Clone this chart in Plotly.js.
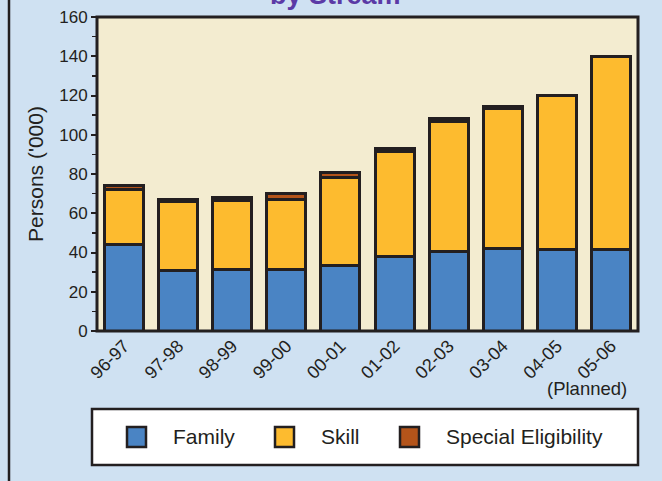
<!DOCTYPE html>
<html>
<head>
<meta charset="utf-8">
<script src="https://cdn.plot.ly/plotly-3.0.1.min.js"></script>
<style>html,body{margin:0;padding:0;background:#cfe1f2;}#chart{width:662px;height:481px;}</style>
</head>
<body>
<div id="chart"></div>
<script>
// ---- data ----
var years = ["96-97","97-98","98-99","99-00","00-01","01-02","02-03","03-04","04-05","05-06"];
var family = [44.3, 30.9, 31.4, 31.4, 33.2, 37.8, 40.5, 41.9, 41.4, 41.5];
var skill = [27.6, 35.3, 35.3, 35.6, 45.1, 53.7, 66.2, 71.6, 78.6, 98.5];
var special = [2.1, 0.8, 1.1, 3.3, 2.4, 1.5, 1.7, 1.0, 0.0, 0.0];
var seriesNames = ["Family", "Skill", "Special Eligibility"];
var yTickVals = [0, 20, 40, 60, 80, 100, 120, 140, 160];
var titleText = "by Stream";
var yTitle = "Persons ('000)";
var plannedNote = "(Planned)";

// ---- style ----
var colors = ["#4a84c4", "#fdbb2f", "#b4541a"];
var ink = "#231f20";
var FONT = "Liberation Sans, Arial, Helvetica, sans-serif";
var L = 97, R = 638, T = 17, B = 331, W = 662, H = 481;
function px(x) { return (x - L) / (R - L); }
function py(y) { return (B - y) / (B - T); }

var series = [family, skill, special];
var traces = series.map(function (vals, i) {
  return {
    type: "bar", x: years, y: vals, name: seriesNames[i],
    marker: { color: colors[i], line: { color: ink, width: 3 } },
    showlegend: false, hoverinfo: "x+y+name"
  };
});

var shapes = [
  { type: "rect", xref: "paper", yref: "paper", x0: 0, x1: 1, y0: 0, y1: 1,
    line: { color: ink, width: 3 }, layer: "above" },
  { type: "line", xref: "paper", yref: "paper", x0: px(9), x1: px(9), y0: py(-5), y1: py(490),
    line: { color: ink, width: 2.5 } },
  { type: "rect", xref: "paper", yref: "paper", x0: px(92), x1: px(638), y0: py(409), y1: py(465),
    fillcolor: "#ffffff", line: { color: ink, width: 2.5 } }
];
var annotations = [
  { text: titleText, xref: "paper", yref: "paper", x: px(335), y: py(12), xanchor: "center", yanchor: "bottom",
    showarrow: false, font: { family: FONT, size: 27, color: "#5b3aa6", weight: "bold" } },
  { text: plannedNote, xref: "paper", yref: "paper", x: px(587), y: py(388), xanchor: "center", yanchor: "middle",
    showarrow: false, font: { family: FONT, size: 18.5, color: ink } }
];
var sqX = [127, 275, 400], txX = [171, 319, 444];
seriesNames.forEach(function (nm, i) {
  shapes.push({ type: "rect", xref: "paper", yref: "paper", x0: px(sqX[i]), x1: px(sqX[i] + 19),
    y0: py(427), y1: py(447), fillcolor: colors[i], line: { color: ink, width: 2.5 } });
  annotations.push({ text: nm, xref: "paper", yref: "paper", x: px(txX[i]), y: py(436),
    xanchor: "left", yanchor: "middle", showarrow: false, font: { family: FONT, size: 21, color: ink } });
});

var layout = {
  width: W, height: H,
  margin: { l: L, r: W - R, t: T, b: H - B, pad: 0 },
  paper_bgcolor: "#cfe1f2", plot_bgcolor: "#f3ecd0",
  barmode: "stack", bargap: 0.28,
  font: { family: FONT, color: ink },
  xaxis: {
    type: "category", tickangle: -45, ticks: "", showline: false, showgrid: false, zeroline: false,
    tickfont: { size: 18, color: ink }, fixedrange: true
  },
  yaxis: {
    range: [0, 160], tickvals: yTickVals, ticks: "outside", ticklen: 5, tickwidth: 2, tickcolor: ink,
    minor: { dtick: 10, ticks: "outside", ticklen: 4, tickwidth: 1.5, tickcolor: ink, showgrid: false },
    showline: false, showgrid: false, zeroline: false,
    tickfont: { size: 17, color: ink },
    title: { text: yTitle, font: { size: 21, color: ink }, standoff: 9 }
  },
  shapes: shapes, annotations: annotations, showlegend: false
};

Plotly.newPlot("chart", traces, layout, { displayModeBar: false, staticPlot: true });
</script>
</body>
</html>
